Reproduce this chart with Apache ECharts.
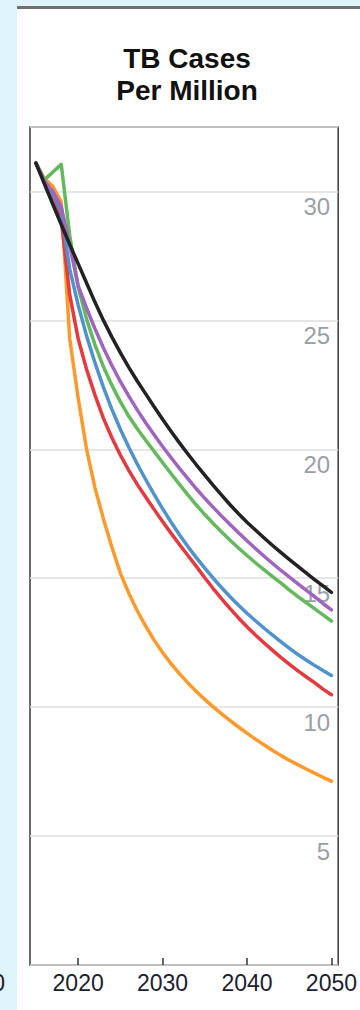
<!DOCTYPE html>
<html>
<head>
<meta charset="utf-8">
<script src="https://cdn.jsdelivr.net/npm/echarts@6/dist/echarts.min.js"></script>
<style>
html,body{margin:0;padding:0;background:#e0f4fc;}
#chart{width:360px;height:1010px;}
</style>
</head>
<body>
<div id="chart"></div>
<script>
// ---- data ----
var years = [2015,2016,2017,2018,2019,2020,2021,2022,2023,2024,2025,2026,2027,2028,2029,2030,2031,2032,2033,2034,2035,2036,2037,2038,2039,2040,2041,2042,2043,2044,2045,2046,2047,2048,2049,2050];
var blackSeries  = [31.1,30.3,29.5,28.72,27.95,27.2,26.45,25.7,25.0,24.35,23.75,23.18,22.65,22.15,21.65,21.17,20.7,20.25,19.82,19.4,19.0,18.6,18.22,17.85,17.5,17.17,16.87,16.57,16.28,16.0,15.73,15.47,15.21,14.95,14.7,14.45];
var purpleSeries = [31.1,30.4,30.0,29.4,27.9,26.35,25.48,24.67,23.93,23.25,22.63,22.06,21.53,21.03,20.56,20.11,19.68,19.26,18.86,18.47,18.1,17.75,17.41,17.08,16.76,16.45,16.15,15.86,15.58,15.31,15.05,14.79,14.54,14.29,14.02,13.77];
var greenSeries  = [31.1,30.45,30.75,31.05,28.3,26.3,25.05,24.05,23.2,22.48,21.85,21.28,20.8,20.35,19.92,19.49,19.06,18.64,18.23,17.84,17.47,17.12,16.79,16.47,16.17,15.88,15.6,15.33,15.07,14.82,14.55,14.3,14.06,13.82,13.58,13.34];
var blueSeries   = [31.1,30.4,29.9,29.2,27.0,25.6,24.4,23.35,22.4,21.55,20.78,20.08,19.43,18.83,18.25,17.7,17.18,16.69,16.23,15.8,15.39,15.0,14.63,14.28,13.95,13.64,13.35,13.07,12.8,12.54,12.29,12.05,11.83,11.62,11.42,11.23];
var redSeries    = [31.1,30.4,29.8,28.9,26.0,24.3,23.1,22.1,21.2,20.45,19.78,19.18,18.64,18.15,17.67,17.2,16.75,16.31,15.88,15.46,15.02,14.6,14.2,13.82,13.46,13.12,12.8,12.5,12.21,11.93,11.67,11.42,11.18,10.95,10.7,10.48];
var orangeSeries = [31.1,30.5,30.2,29.6,24.3,22.0,20.0,18.5,17.3,16.2,15.2,14.42,13.74,13.14,12.6,12.12,11.69,11.3,10.94,10.61,10.3,10.01,9.74,9.48,9.23,8.99,8.76,8.54,8.33,8.13,7.94,7.77,7.6,7.44,7.28,7.13];
var xTickLabels = [2020,2030,2040,2050];
var yTickLabels = [5,10,15,20,25,30];
var titleText = 'TB Cases\nPer Million';
var prevPanelLabel = '2050';

function pairs(vals){ return years.map(function(y,i){ return [y, vals[i]]; }); }
function line(name, vals, color){
  return {name:name, type:'line', data:pairs(vals), showSymbol:false, smooth:false,
    lineStyle:{color:color, width:3.5, cap:'round', join:'round'}, itemStyle:{color:color}, silent:true};
}

var chart = echarts.init(document.getElementById('chart'), null, {renderer:'svg'});
chart.setOption({
  animation:false,
  backgroundColor:'#e0f4fc',
  graphic:[
    {type:'rect', z:-100, shape:{x:17, y:9, width:343, height:1001}, style:{fill:'#ffffff'}},
    {type:'rect', z:-99, shape:{x:17, y:6, width:343, height:3}, style:{fill:'#707070'}},
    {type:'text', z:50, x:187, y:42, style:{text:titleText, textAlign:'center', textVerticalAlign:'top',
      font:'bold 28px "Liberation Sans", Arial, sans-serif', lineHeight:32, fill:'#111'}},
    {type:'text', z:50, x:5, y:983, style:{text:prevPanelLabel, textAlign:'right', textVerticalAlign:'middle',
      font:'23px "Liberation Sans", Arial, sans-serif', fill:'#1c2030'}}
  ],
  grid:{left:30, right:15, top:127, bottom:45, show:true, borderColor:'#3a3a3a', borderWidth:1.5, backgroundColor:'transparent', containLabel:false},
  xAxis:{type:'value', min:2014.3, max:2050.8,
    axisLine:{show:false},
    splitLine:{show:false},
    axisTick:{show:true, inside:true, length:7, lineStyle:{color:'#333', width:1.5}, customValues:xTickLabels},
    axisLabel:{show:true, customValues:xTickLabels, margin:6, color:'#1c2030', fontSize:23, fontFamily:'"Liberation Sans", Arial, sans-serif',
      formatter:function(v){ return String(Math.round(v)); }}
  },
  yAxis:{type:'value', position:'right', min:0, max:32.5, interval:5,
    axisLine:{show:false}, axisTick:{show:false},
    splitLine:{show:true, lineStyle:{color:'#dedede', width:1.5}},
    axisLabel:{show:true, inside:true, customValues:yTickLabels, margin:8, color:'#9a9ea6', fontSize:24,
      fontFamily:'"Liberation Sans", Arial, sans-serif', verticalAlign:'top', lineHeight:24, padding:[3,0,0,0],
      formatter:function(v){ return (v>0 && v%5===0) ? String(v) : ''; }}
  },
  series:[
    line('orange', orangeSeries, '#fd9a2b'),
    line('red', redSeries, '#e3393f'),
    line('blue', blueSeries, '#4f92cc'),
    line('green', greenSeries, '#63b95b'),
    line('purple', purpleSeries, '#a064be'),
    line('black', blackSeries, '#222222')
  ]
});
</script>
</body>
</html>
